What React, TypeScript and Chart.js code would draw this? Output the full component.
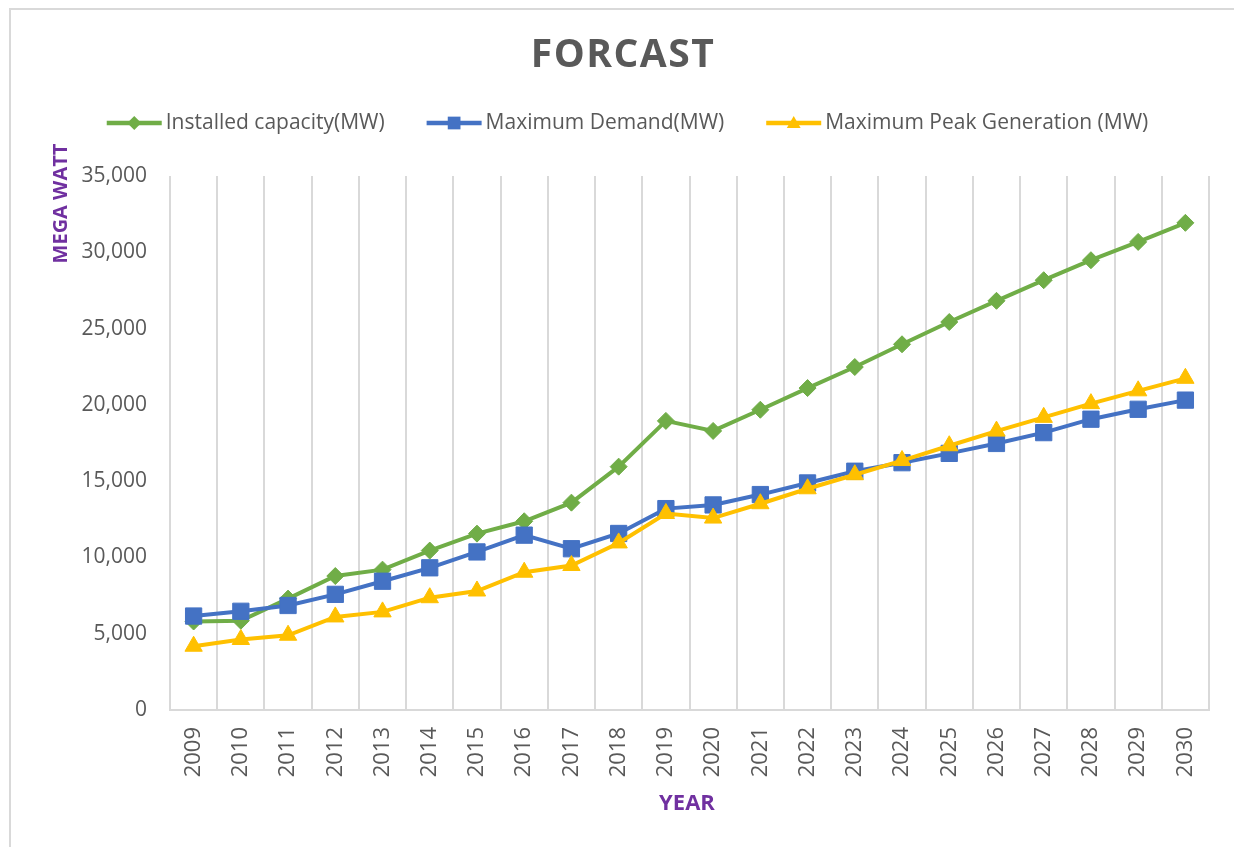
import { useEffect, useRef } from "react";
import { Chart, registerables } from "chart.js";

Chart.register(...registerables);

const years = [
  "2009", "2010", "2011", "2012", "2013", "2014", "2015", "2016", "2017", "2018", "2019",
  "2020", "2021", "2022", "2023", "2024", "2025", "2026", "2027", "2028", "2029", "2030",
];
const installedCapacity = [
  5800, 5850, 7300, 8780, 9200, 10450, 11560, 12370, 13590, 15950, 18950,
  18290, 19680, 21100, 22480, 23970, 25430, 26820, 28170, 29480, 30680, 31930,
];
const maximumDemand = [
  6160, 6470, 6850, 7580, 8440, 9320, 10360, 11460, 10570, 11570, 13200,
  13440, 14120, 14880, 15650, 16210, 16820, 17470, 18180, 19060, 19710, 20310,
];
const maximumPeakGeneration = [
  4180, 4620, 4900, 6100, 6430, 7360, 7800, 9030, 9470, 10950, 12880,
  12580, 13520, 14500, 15420, 16350, 17320, 18280, 19180, 20080, 20920, 21740,
];
const seriesLabels = [
  "Installed capacity(MW)",
  "Maximum Demand(MW)",
  "Maximum Peak Generation (MW)",
];
const seriesColors = ["#70AD47", "#4472C4", "#FFC000"];
const seriesMarkers = ["rectRot", "rect", "triangle"];
const chartTitle = "FORCAST";
const yAxisTitle = "MEGA WATT";
const xAxisTitle = "YEAR";
const yMin = 0;
const yMax = 35000;
const yStep = 5000;

const FONT = "'Open Sans', 'DejaVu Sans', sans-serif";
const TEXT_GRAY = "#595959";
const PURPLE = "#7030A0";
const GRID = "#D9D9D9";

function drawMarker(ctx: CanvasRenderingContext2D, style: string, x: number, y: number, r: number) {
  ctx.beginPath();
  if (style === "rectRot") {
    ctx.moveTo(x, y - r);
    ctx.lineTo(x + r, y);
    ctx.lineTo(x, y + r);
    ctx.lineTo(x - r, y);
  } else if (style === "rect") {
    const s = r * Math.SQRT1_2;
    ctx.rect(x - s, y - s, 2 * s, 2 * s);
  } else {
    const h = r * 1.5;
    const w = r * Math.sqrt(3);
    ctx.moveTo(x, y - h / 2 - 1);
    ctx.lineTo(x + w / 2, y + h / 2 - 1);
    ctx.lineTo(x - w / 2, y + h / 2 - 1);
  }
  ctx.closePath();
  ctx.fill();
}

const decorPlugin = {
  id: "decor",
  beforeDraw(chart: any) {
    const ctx: CanvasRenderingContext2D = chart.ctx;
    ctx.save();
    ctx.fillStyle = "#FFFFFF";
    ctx.fillRect(0, 0, chart.width, chart.height);
    ctx.strokeStyle = GRID;
    ctx.lineWidth = 2;
    ctx.beginPath();
    ctx.moveTo(10, chart.height);
    ctx.lineTo(10, 9);
    ctx.lineTo(chart.width, 9);
    ctx.stroke();
    ctx.restore();
  },
  afterDraw(chart: any) {
    const ctx: CanvasRenderingContext2D = chart.ctx;
    ctx.save();
    // title
    ctx.fillStyle = TEXT_GRAY;
    ctx.font = `bold 39px ${FONT}`;
    ctx.textAlign = "center";
    ctx.textBaseline = "middle";
    (ctx as any).letterSpacing = "1.5px";
    ctx.fillText(chartTitle, 623, 56);
    (ctx as any).letterSpacing = "0px";

    // legend
    ctx.font = `21px ${FONT}`;
    const lineLen = 55;
    const textGap = 4;
    const itemGap = 42;
    const widths = seriesLabels.map((t) => ctx.measureText(t).width);
    const total =
      widths.reduce((a, b) => a + b, 0) + seriesLabels.length * (lineLen + textGap) + itemGap * (seriesLabels.length - 1);
    let x = 627.5 - total / 2;
    const ly = 123;
    const legendR = [7, 9, 8];
    seriesLabels.forEach((label, i) => {
      ctx.strokeStyle = seriesColors[i];
      ctx.fillStyle = seriesColors[i];
      ctx.lineWidth = 4.5;
      ctx.beginPath();
      ctx.moveTo(x, ly);
      ctx.lineTo(x + lineLen, ly);
      ctx.stroke();
      drawMarker(ctx, seriesMarkers[i], x + lineLen / 2, ly, legendR[i]);
      ctx.fillStyle = TEXT_GRAY;
      ctx.textAlign = "left";
      ctx.textBaseline = "middle";
      ctx.fillText(label, x + lineLen + textGap, ly);
      x += lineLen + textGap + widths[i] + itemGap;
    });

    // axis titles
    ctx.fillStyle = PURPLE;
    ctx.font = `bold 20px ${FONT}`;
    ctx.textAlign = "center";
    ctx.textBaseline = "middle";
    ctx.save();
    ctx.translate(61, 203.5);
    ctx.rotate(-Math.PI / 2);
    ctx.fillText(yAxisTitle, 0, 0);
    ctx.restore();
    ctx.font = `bold 22px ${FONT}`;
    ctx.fillText(xAxisTitle, 687, 804);
    ctx.restore();
  },
};

export default function App() {
  const canvasRef = useRef<HTMLCanvasElement | null>(null);

  useEffect(() => {
    if (!canvasRef.current) return;
    const datasetsData = [installedCapacity, maximumDemand, maximumPeakGeneration];
    const radii = [8.5, 11.5, 10];
    const chart = new Chart(canvasRef.current, {
      type: "line",
      data: {
        labels: years,
        datasets: datasetsData.map((d, i) => ({
          label: seriesLabels[i],
          data: d,
          borderColor: seriesColors[i],
          backgroundColor: seriesColors[i],
          borderWidth: 4,
          pointStyle: seriesMarkers[i] as any,
          pointRadius: radii[i],
          pointBorderWidth: 1,
          pointBorderColor: seriesColors[i],
          pointBackgroundColor: seriesColors[i],
          tension: 0,
          fill: false,
          order: 3 - i,
        })),
      },
      options: {
        responsive: false,
        animation: false,
        devicePixelRatio: 1,
        layout: { padding: { top: 176, right: 25, bottom: 0, left: 0 } },
        plugins: {
          legend: { display: false },
          title: { display: false },
          tooltip: { enabled: false },
        },
        scales: {
          x: {
            type: "category",
            offset: true,
            grid: { display: true, offset: true, color: GRID, lineWidth: 2, drawTicks: false },
            border: { display: true, color: GRID, width: 2 },
            ticks: {
              autoSkip: false,
              minRotation: 90,
              maxRotation: 90,
              padding: 17,
              color: TEXT_GRAY,
              font: { family: FONT, size: 22 },
            },
            afterFit: (s: any) => {
              s.height = 137;
            },
          },
          y: {
            min: yMin,
            max: yMax,
            grid: { display: false, drawTicks: false },
            border: { display: false },
            ticks: {
              stepSize: yStep,
              padding: 23,
              color: TEXT_GRAY,
              font: { family: FONT, size: 21 },
              callback: (v: any) => Number(v).toLocaleString("en-US"),
            },
            afterFit: (s: any) => {
              s.width = 170;
            },
          },
        },
      },
      plugins: [decorPlugin],
    });
    return () => chart.destroy();
  }, []);

  return (
    <div style={{ position: "absolute", left: 0, top: 0, width: 1234, height: 847, background: "#fff" }}>
      <canvas ref={canvasRef} width={1234} height={847} style={{ display: "block" }} />
    </div>
  );
}
